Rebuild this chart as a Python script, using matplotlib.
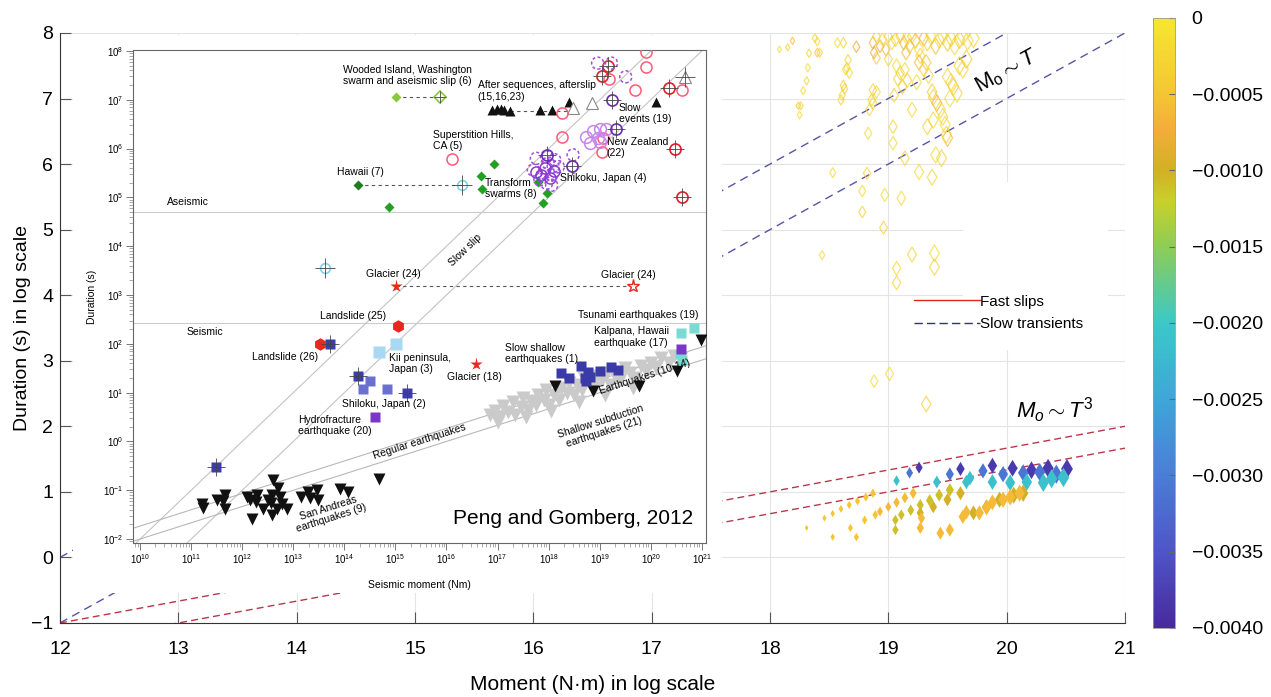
import numpy as np
import matplotlib
matplotlib.use('Agg')
import matplotlib.pyplot as plt
from matplotlib.colors import LinearSegmentedColormap, Normalize
from matplotlib.cm import ScalarMappable
from matplotlib.patches import Rectangle
from matplotlib.lines import Line2D
from matplotlib.ticker import LogLocator, NullFormatter, FixedFormatter

plt.rcParams['font.family'] = ['Liberation Sans', 'DejaVu Sans']
plt.rcParams['mathtext.fontset'] = 'custom'
plt.rcParams['mathtext.rm'] = 'Liberation Sans'
plt.rcParams['mathtext.it'] = 'Liberation Sans:italic'

# ---------------- main panel data (log10 moment, log10 duration, colour value)
slow_moment = [18.08, 18.15, 18.19, 18.38, 18.40, 18.33, 18.40, 18.42, 18.32, 18.31, 18.28, 18.24, 18.26, 18.25,
               18.57, 18.62, 18.73, 18.66, 18.65, 18.67, 18.64, 18.62, 18.63, 18.61, 18.60,
               18.87, 18.90, 18.93, 18.95, 18.98, 19.00, 19.03, 19.06, 19.10, 19.13, 19.16, 19.18, 19.20, 19.23,
               19.26, 19.30, 19.33, 19.36, 19.40, 19.43, 19.46, 19.50, 19.53, 19.56, 19.60, 19.63, 19.67, 19.72,
               18.88, 18.90, 19.15, 19.00, 19.27, 19.32,
               19.10, 19.14, 19.12, 19.16, 19.24, 19.26, 19.30, 19.34, 19.37, 19.38, 19.41, 19.44, 19.38, 19.33,
               19.50, 19.53, 19.55, 19.58, 19.52, 19.60, 19.63, 19.66, 19.46, 19.48, 19.50, 19.49, 19.40, 19.45,
               19.26, 19.37, 19.05, 19.08, 19.07,
               18.87, 18.90, 18.86, 18.84, 18.87, 18.83, 19.04, 19.04, 19.14, 19.20, 18.53, 18.82, 18.78, 18.78,
               18.97, 19.11, 18.96, 18.44, 19.20, 19.39, 19.39, 19.07, 19.07, 18.88, 19.01, 19.32]
slow_duration = [7.75, 7.78, 7.88, 7.92, 7.87, 7.69, 7.70, 7.70, 7.47, 7.27, 7.12, 6.89, 6.89, 6.75,
                 7.85, 7.85, 7.79, 7.59, 7.47, 7.39, 7.44, 7.20, 7.15, 7.05, 6.98,
                 7.85, 7.95, 7.80, 7.90, 7.75, 7.95, 7.85, 7.90, 7.95, 7.85, 7.92, 7.80, 7.95, 7.88,
                 7.75, 7.92, 7.85, 7.95, 7.80, 7.90, 7.95, 7.85, 7.92, 7.80, 7.90, 7.95, 7.88, 7.92,
                 7.70, 7.62, 7.70, 7.60, 7.65, 7.55,
                 7.39, 7.44, 7.18, 7.28, 7.25, 7.55, 7.45, 7.35, 7.10, 7.02, 6.93, 6.83, 6.67, 6.57,
                 7.33, 7.25, 7.18, 7.08, 7.00, 7.50, 7.45, 7.60, 6.72, 6.60, 6.40, 6.45, 6.14, 6.09,
                 5.88, 5.80, 7.05, 7.30, 7.50,
                 7.13, 7.10, 6.98, 6.83, 6.93, 6.47, 6.57, 6.32, 6.09, 6.83, 5.87, 5.86, 5.59, 5.27,
                 5.53, 5.48, 5.03, 4.61, 4.62, 4.64, 4.43, 4.41, 4.19, 2.69, 2.80, 2.34]
slow_value = [-0.0002, -0.0004, -0.0006, -0.0003, -0.0002, -0.0003, -0.0005, -0.0003, -0.0002, -0.0003, -0.0002,
              -0.0004, -0.0003, -0.0002,
              -0.0002, -0.0003, -0.0008, -0.0003, -0.0002, -0.0003, -0.0002, -0.0004, -0.0003, -0.0002, -0.0003,
              -0.0007, -0.0003, -0.0008, -0.0002, -0.0006, -0.0003, -0.0002, -0.0004, -0.0003, -0.0007, -0.0002,
              -0.0005, -0.0003, -0.0006, -0.0002, -0.0007, -0.0003, -0.0002, -0.0006, -0.0003, -0.0002, -0.0004,
              -0.0003, -0.0002, -0.0005, -0.0003, -0.0002, -0.0003,
              -0.0008, -0.0004, -0.0006, -0.0003, -0.0002, -0.0005,
              -0.0003, -0.0002, -0.0004, -0.0003, -0.0002, -0.0006, -0.0003, -0.0002, -0.0004, -0.0003, -0.0007,
              -0.0003, -0.0002, -0.0003,
              -0.0003, -0.0002, -0.0004, -0.0003, -0.0002, -0.0003, -0.0002, -0.0004, -0.0003, -0.0002, -0.0006,
              -0.0003, -0.0002, -0.0003,
              -0.0002, -0.0003, -0.0004, -0.0003, -0.0002,
              -0.0003, -0.0002, -0.0003, -0.0002, -0.0003, -0.0002, -0.0003, -0.0002, -0.0003, -0.0002, -0.0002,
              -0.0003, -0.0002, -0.0003, -0.0002, -0.0002, -0.0003, -0.0002, -0.0003, -0.0002, -0.0003, -0.0002,
              -0.0003, -0.0002, -0.0002, -0.0003]

fast_moment = [19.26, 19.61, 19.88, 20.05, 20.21, 20.35, 20.51,
               19.18, 19.52, 19.80, 19.97, 20.14, 20.28, 20.42,
               19.07, 19.41, 19.66, 19.69, 19.88, 20.03, 20.17, 20.31, 20.48, 20.38,
               18.31, 18.46, 18.53, 18.60, 18.67, 18.74, 18.81, 18.87, 18.53, 18.73, 18.68, 18.80, 18.89,
               18.93, 19.00, 19.07, 19.14, 19.21,
               19.11, 19.19, 19.27, 19.35, 19.43, 19.52, 19.06, 19.06,
               19.27, 19.38, 19.50, 19.61, 19.72, 19.83, 19.94, 20.06, 20.14,
               19.27, 19.44, 19.52, 19.63, 19.66, 19.77, 19.83, 19.88, 19.97, 20.03, 20.11, 19.28]
fast_duration = [1.37, 1.35, 1.40, 1.36, 1.33, 1.36, 1.35,
                 1.29, 1.27, 1.32, 1.27, 1.29, 1.30, 1.27,
                 1.17, 1.15, 1.15, 1.21, 1.15, 1.14, 1.15, 1.14, 1.22, 1.20,
                 0.45, 0.60, 0.67, 0.74, 0.80, 0.86, 0.92, 0.98, 0.31, 0.31, 0.45, 0.57, 0.65,
                 0.70, 0.77, 0.84, 0.91, 0.98,
                 0.65, 0.72, 0.80, 0.87, 0.95, 1.03, 0.57, 0.42,
                 0.68, 0.77, 0.88, 0.98, 0.68, 0.77, 0.88, 0.95, 0.98,
                 0.45, 0.37, 0.42, 0.62, 0.69, 0.68, 0.76, 0.84, 0.88, 0.92, 0.98, 0.60]
fast_value = [-0.0038] * 7 + [-0.0031] * 7 + [-0.0021] * 10 + \
             [-0.0005] * 13 + [-0.0006] * 5 + [-0.0011] * 8 + [-0.0010] * 9 + [-0.0006] * 12

cbar_ticks = [0, -0.0005, -0.0010, -0.0015, -0.0020, -0.0025, -0.0030, -0.0035, -0.0040]
cbar_labels = ['0', '\u22120.0005', '\u22120.0010', '\u22120.0015', '\u22120.0020',
               '\u22120.0025', '\u22120.0030', '\u22120.0035', '\u22120.0040']

# ---------------- inset data (log10 seismic moment, log10 duration)
sanandreas_m = [11.21, 11.23, 11.50, 11.66, 11.63, 11.66, 12.20, 12.09, 12.15, 12.28, 12.27, 12.41, 12.58, 12.56,
                12.58, 12.51, 12.68, 12.71, 12.74, 12.77, 12.87, 12.60, 13.16, 13.29, 13.33, 13.46, 13.49,
                13.91, 14.08, 14.68]
sanandreas_d = [-1.28, -1.36, -1.20, -1.10, -1.22, -1.39, -1.58, -1.13, -1.20, -1.10, -1.24, -1.39, -1.10, -1.26,
                -1.51, -1.20, -1.39, -0.96, -1.13, -1.28, -1.39, -0.79, -1.13, -1.03, -1.15, -1.00, -1.20,
                -0.98, -1.04, -0.76]
bigquake_m = [18.12, 18.87, 19.77, 20.51, 20.98]
bigquake_d = [1.14, 1.04, 1.14, 1.45, 2.08]
regular_m = [16.85, 16.95, 17.05, 17.10, 17.20, 17.30, 17.35, 17.45, 17.50, 17.60, 17.65, 17.75, 17.80, 17.90,
             17.95, 18.00, 18.10, 18.20, 18.25, 18.35, 18.40, 18.50, 18.55, 18.65, 18.70, 18.80, 18.90, 18.95,
             19.05, 19.15, 19.20, 19.30, 19.40, 19.50, 19.60, 19.70, 19.80, 19.90, 20.00, 20.10, 20.20, 20.35,
             20.45, 20.60, 17.00, 17.55, 18.05, 18.60, 19.10, 19.65]
regular_d = [0.55, 0.62, 0.50, 0.72, 0.60, 0.80, 0.55, 0.70, 0.90, 0.65, 0.82, 0.75, 0.95, 0.85,
             1.05, 0.75, 0.95, 0.85, 1.10, 1.00, 1.20, 0.95, 1.15, 1.05, 1.30, 1.20, 1.10, 1.35,
             1.25, 1.40, 1.15, 1.35, 1.25, 1.50, 1.40, 1.30, 1.55, 1.45, 1.60, 1.50, 1.70, 1.60,
             1.75, 1.70, 0.40, 0.50, 0.62, 0.80, 0.95, 1.10]
slowshallow_m = [18.24, 18.40, 18.64, 18.71, 18.77, 18.81, 19.00, 19.23, 19.36, 18.74]
slowshallow_d = [1.40, 1.29, 1.55, 1.29, 1.43, 1.31, 1.44, 1.52, 1.46, 1.24]
tsunami_m = [20.60, 20.85, 20.62, 20.58]
tsunami_d = [2.23, 2.32, 1.67, 1.80]
purple_sq_m = [14.60, 20.60]
purple_sq_d = [0.51, 1.89]
darkblue_m = [13.72, 14.27, 15.22, 11.49]
darkblue_d = [1.99, 1.35, 1.00, -0.53]
shikoku2_m = [14.51, 14.37, 14.83]
shikoku2_d = [1.24, 1.07, 1.07]
kii_m = [15.02, 14.68]
kii_d = [1.99, 1.84]
landslide_m = [13.52, 15.05]
landslide_d = [1.99, 2.37]
glacier_m = [15.01, 16.58]
glacier_d = [3.18, 1.58]
glacier_open_m = [19.65]
glacier_open_d = [3.18]
transform_m = [16.93, 16.67, 16.69, 17.96, 17.89, 17.79, 14.87]
transform_d = [5.68, 5.44, 5.17, 5.10, 4.89, 5.32, 4.81]
hawaii_m = [14.26]
hawaii_d = [5.25]
wooded_m = [15.01]
wooded_d = [7.06]
wooded_open_m = [15.88]
wooded_open_d = [7.06]
cyan_ring_m = [16.30, 13.63]
cyan_ring_d = [5.25, 3.56]
afterslip_m = [16.90, 16.98, 17.06, 17.13, 17.25, 17.83, 18.07, 18.40, 20.10]
afterslip_d = [6.80, 6.82, 6.82, 6.80, 6.78, 6.80, 6.79, 6.96, 6.96]
afterslip_open_m = [18.48, 18.84, 20.67]
afterslip_open_d = [6.83, 6.94, 7.47]
pink_m = [19.90, 19.90, 19.18, 19.69, 20.62, 18.26, 18.26, 16.10, 19.04, 19.07]
pink_d = [7.97, 7.68, 7.42, 7.20, 7.20, 6.72, 6.24, 5.79, 5.94, 6.21]
red_ring_m = [19.16, 19.05, 20.36, 20.47, 20.62]
red_ring_d = [7.69, 7.49, 7.24, 6.00, 5.01]
nz_m = [18.74, 18.87, 19.00, 19.13, 18.81, 18.97, 19.00]
nz_d = [6.24, 6.37, 6.40, 6.40, 6.11, 6.21, 6.14]
purple_dash_m = [18.96, 19.23, 19.51, 17.76, 17.96, 18.12, 18.48, 17.70, 17.89, 18.06, 18.09, 17.96, 18.06,
                 17.83, 18.19, 17.99]
purple_dash_d = [7.75, 7.75, 7.47, 5.80, 5.83, 5.77, 5.87, 5.56, 5.49, 5.46, 5.63, 5.29, 5.25, 5.36, 5.63, 5.70]
purple_solid_m = [17.75, 17.92, 18.02, 17.85, 18.10]
purple_solid_d = [5.52, 5.60, 5.40, 5.45, 5.55]
purple_ring_m = [19.24, 19.31, 17.96, 18.46]
purple_ring_d = [7.00, 6.40, 5.87, 5.64]
aseismic_level = 4.71
seismic_level = 2.42

# ---------------------------------------------------------------- figure
fig = plt.figure(figsize=(12.71, 6.97), dpi=100)
ax = fig.add_axes([0.0472, 0.1062, 0.8379, 0.8465])

colors = ['#472a9e', '#4f55c8', '#4a7ed6', '#3ea6da', '#3cc8c8', '#8ccd55',
          '#c8d02c', '#d2b025', '#f5ac3c', '#f5c435', '#f6e630']
stops = [0, 0.125, 0.25, 0.375, 0.5, 0.625, 0.7, 0.75, 0.82, 0.875, 1.0]
cmap = LinearSegmentedColormap.from_list('strain', list(zip(stops, colors)))
norm = Normalize(vmin=-0.004, vmax=0)

ax.set_xlim(12, 21)
ax.set_ylim(-1, 8)
ax.set_xticks(range(12, 22))
ax.set_yticks(range(-1, 9))
ax.grid(True, color='#e4e4e4', lw=0.8)
ax.set_axisbelow(True)
for s in ['top', 'right']:
    ax.spines[s].set_visible(False)
for s in ['left', 'bottom']:
    ax.spines[s].set_color('#333333')
ax.tick_params(direction='in', length=8, color='#555555', labelsize=14)
ax.tick_params(axis='x', pad=13)
ax.tick_params(axis='y', pad=5)
ax.set_xlabel('Moment (N\u00b7m) in log scale', fontsize=15, labelpad=12)
ax.set_ylabel('Duration (s) in log scale', fontsize=14, labelpad=0)

# scaling lines
xx = np.array([12.0, 21.0])
ax.plot(xx, xx - 12, ls=(0, (6, 4)), color='#5555a5', lw=1)
ax.plot(xx, xx - 13, ls=(0, (6, 4)), color='#5555a5', lw=1)
ax.plot(xx, (xx - 15) / 3, ls=(0, (5, 3)), color='#b8384a', lw=1)
ax.plot(xx, (xx - 16) / 3, ls=(0, (5, 3)), color='#b8384a', lw=1)

sm = np.array(slow_moment)
ax.scatter(sm, slow_duration, s=(3 + 3.8 * (sm - 18)) ** 2, marker='d', facecolors='none',
           edgecolors=cmap(norm(np.array(slow_value))), linewidths=0.9, alpha=0.7, zorder=3)
fm = np.array(fast_moment)
ax.scatter(fm, fast_duration, s=(3 + 3.2 * (fm - 18.3)) ** 2, marker='d', c=fast_value, cmap=cmap,
           norm=norm, edgecolors='none', zorder=3)

ax.add_patch(Rectangle((0.848, 0.463), 0.136, 0.284, transform=ax.transAxes, facecolor='white',
                       edgecolor='none', zorder=1))
handles = [Line2D([], [], color='#e0261b', lw=1),
           Line2D([], [], color='#2f2f8f', lw=1, ls=(0, (6, 3)))]
ax.legend(handles, ['Fast slips', 'Slow transients'], loc='upper left', bbox_to_anchor=(0.789, 0.58),
          frameon=False, fontsize=11, handlelength=4.3, handletextpad=0.02, labelspacing=0.55)
ax.text(20.0, 7.42, r'$\mathrm{M_o}\sim T$', fontsize=16, rotation=29, ha='center', va='center')
ax.text(20.41, 2.25, r'$M_o\sim T^3$', fontsize=16, ha='center', va='center')

# colour bar
cax = fig.add_axes([0.9072, 0.099, 0.0173, 0.8752])
cb = fig.colorbar(ScalarMappable(norm=norm, cmap=cmap), cax=cax)
cb.set_ticks(cbar_ticks)
cb.ax.yaxis.set_major_formatter(FixedFormatter(cbar_labels))
cb.ax.tick_params(direction='in', length=4, color='#666666', labelsize=14, pad=12)
cb.outline.set_edgecolor('#999999')
cb.outline.set_linewidth(0.6)

# white backdrop of the embedded figure
fig.patches.append(Rectangle((0.0574, 0.1492), 0.5106, 0.8006, transform=fig.transFigure,
                             facecolor='white', edgecolor='none', zorder=1))

# ---------------------------------------------------------------- inset
ins = fig.add_axes([0.1046, 0.221, 0.4508, 0.7073], zorder=3)
ins.set_xscale('log')
ins.set_yscale('log')
ins.set_xlim(10 ** 9.86, 10 ** 21.08)
ins.set_ylim(10 ** -2.08, 10 ** 8.02)
ins.set_xticks([10.0 ** k for k in range(10, 22)])
ins.set_yticks([10.0 ** k for k in range(-2, 9)])
ins.xaxis.set_minor_locator(LogLocator(base=10, subs=range(2, 10), numticks=100))
ins.yaxis.set_minor_locator(LogLocator(base=10, subs=range(2, 10), numticks=100))
ins.xaxis.set_minor_formatter(NullFormatter())
ins.yaxis.set_minor_formatter(NullFormatter())
ins.tick_params(which='major', direction='out', length=5, width=0.7, color='#777777', labelsize=7, pad=2)
ins.tick_params(which='minor', direction='out', length=3, width=0.5, color='#888888')
for s in ins.spines.values():
    s.set_color('#666666')
    s.set_linewidth(0.8)
ins.set_xlabel('Seismic moment (Nm)', fontsize=7.5, labelpad=10)
ins.set_ylabel('Duration (s)', fontsize=7.5, labelpad=4)


def P(m, d, **kw):
    ins.plot(10.0 ** np.array(m), 10.0 ** np.array(d), ls='none', **kw)


def cross(m, d, ms=13):
    P(m, d, marker='+', ms=ms, mew=0.6, color='#444444', zorder=6)


lm = np.array([9.5, 21.5])
for off in [12, 13]:
    ins.plot(10 ** lm, 10 ** (lm - off), color='#c4c4c4', lw=0.8)
for off in [15.2, 16]:
    ins.plot(10 ** lm, 10 ** ((lm - off) / 3), color='#b8b8b8', lw=0.8)
ins.axhline(10 ** aseismic_level, color='#cccccc', lw=0.8)
ins.axhline(10 ** seismic_level, color='#cccccc', lw=0.8)

dash = dict(color='#555555', lw=0.8, ls=(0, (3, 3)))
ins.plot(10 ** np.array([wooded_m[0], wooded_open_m[0]]), 10 ** np.array([wooded_d[0]] * 2), **dash)
ins.plot(10 ** np.array([hawaii_m[0], cyan_ring_m[0]]), 10 ** np.array([hawaii_d[0]] * 2), **dash)
ins.plot(10 ** np.array([glacier_m[0], glacier_open_m[0]]), 10 ** np.array([glacier_d[0]] * 2), **dash)
ins.plot(10 ** np.array([afterslip_m[4], afterslip_open_m[0]]), 10 ** np.array([6.77, 6.77]), **dash)

P(regular_m, regular_d, marker='v', ms=9.5, color='#cacaca', mec='none', zorder=3)
P(sanandreas_m, sanandreas_d, marker='v', ms=8, color='#111111', mec='none', zorder=4)
P(bigquake_m, bigquake_d, marker='v', ms=8, color='#111111', mec='none', zorder=4)
P(slowshallow_m, slowshallow_d, marker='s', ms=7.5, color='#3b3ba8', mec='none', zorder=4)
P(tsunami_m, tsunami_d, marker='s', ms=7.5, color='#7adbd3', mec='none', zorder=4)
P(purple_sq_m, purple_sq_d, marker='s', ms=7, color='#7a36c4', mec='none', zorder=5)
P(darkblue_m, darkblue_d, marker='s', ms=7.5, color='#3c3cae', mec='none', zorder=4)
cross(darkblue_m, darkblue_d)
P(shikoku2_m, shikoku2_d, marker='s', ms=7.5, color='#6a70d0', mec='none', zorder=4)
P(kii_m, kii_d, marker='s', ms=8, color='#a8d8f2', mec='none', zorder=4)
P(landslide_m, landslide_d, marker='h', ms=9, color='#e8281e', mec='none', zorder=4)
P(glacier_m, glacier_d, marker='*', ms=9.5, color='#e8281e', mec='none', zorder=4)
P(glacier_open_m, glacier_open_d, marker='*', ms=9.5, mfc='white', mec='#e8281e', mew=1, zorder=4)
P(transform_m, transform_d, marker='D', ms=5.5, color='#22a022', mec='none', zorder=4)
P(hawaii_m, hawaii_d, marker='D', ms=5.5, color='#1e7d1e', mec='none', zorder=4)
P(wooded_m, wooded_d, marker='D', ms=5.5, color='#86c93a', mec='none', zorder=4)
P(wooded_open_m, wooded_open_d, marker='D', ms=6, mfc='white', mec='#86c93a', mew=1.2, zorder=4)
cross(wooded_open_m, wooded_open_d, ms=8)
P(cyan_ring_m, cyan_ring_d, marker='o', ms=7, mfc='none', mec='#7fd3ea', mew=1.2, zorder=4)
cross(cyan_ring_m, cyan_ring_d, ms=14)
P(afterslip_m, afterslip_d, marker='^', ms=7.5, color='#111111', mec='none', zorder=4)
P(afterslip_open_m, afterslip_open_d, marker='^', ms=8, mfc='white', mec='#888888', mew=0.8, zorder=4)
cross(afterslip_open_m[2:], afterslip_open_d[2:], ms=14)
P(pink_m, pink_d, marker='o', ms=8, mfc='none', mec='#ff5a78', mew=1.1, zorder=4)
P(red_ring_m, red_ring_d, marker='o', ms=8, mfc='none', mec='#e01f26', mew=1.2, zorder=4)
cross(red_ring_m, red_ring_d)
P(nz_m, nz_d, marker='o', ms=8.5, mfc='none', mec='#c685ea', mew=1.1, zorder=4)
ins.scatter(10.0 ** np.array(purple_dash_m), 10.0 ** np.array(purple_dash_d), s=75, facecolors='none',
            edgecolors='#a24fdc', linewidths=1.1, linestyles=(0, (2, 1.5)), zorder=4)
P(purple_solid_m, purple_solid_d, marker='o', ms=8, mfc='none', mec='#8a3ccf', mew=1.1, zorder=4)
P(purple_ring_m, purple_ring_d, marker='o', ms=8, mfc='none', mec='#6a2cb0', mew=1.2, zorder=4)
cross(purple_ring_m, purple_ring_d)


def T(m, d, s, **kw):
    kw.setdefault('fontsize', 7.5)
    kw.setdefault('va', 'center')
    kw.setdefault('ha', 'left')
    ins.text(10.0 ** m, 10.0 ** d, s, zorder=7, linespacing=1.15, **kw)


T(13.97, 7.49, 'Wooded Island, Washington\nswarm and aseismic slip (6)')
T(16.61, 7.18, 'After sequences, afterslip\n(15,16,23)')
T(15.73, 6.16, 'Superstition Hills,\nCA (5)')
T(19.37, 6.72, 'Slow\nevents (19)')
T(19.14, 6.02, 'New Zealand\n(22)')
T(13.85, 5.53, 'Hawaii (7)')
T(16.75, 5.19, 'Transform\nswarms (8)')
T(18.22, 5.40, 'Shikoku, Japan (4)')
T(10.53, 4.91, 'Aseismic')
T(14.42, 3.44, 'Glacier (24)')
T(19.02, 3.42, 'Glacier (24)')
T(13.52, 2.57, 'Landslide (25)')
T(10.92, 2.24, 'Seismic')
T(12.19, 1.72, 'Landslide (26)')
T(14.88, 1.59, 'Kii peninsula,\nJapan (3)')
T(13.95, 0.76, 'Shiloku, Japan (2)')
T(13.10, 0.32, 'Hydrofracture\nearthquake (20)')
T(16.01, 1.33, 'Glacier (18)')
T(17.14, 1.80, 'Slow shallow\nearthquakes (1)')
T(18.57, 2.60, 'Tsunami earthquakes (19)')
T(18.89, 2.14, 'Kalpana, Hawaii\nearthquake (17)')
T(16.36, 3.92, 'Slow slip', ha='center', rotation=44)
T(15.48, 0.0, 'Regular earthquakes', ha='center', rotation=17.7)
T(13.72, -1.47, 'San Andreas\nearthquakes (9)', ha='center', rotation=17.7)
T(19.88, 1.32, 'Earthquakes (10-14)', ha='center', rotation=17.7)
T(19.06, 0.30, 'Shallow subduction\nearthquakes (21)', ha='center', rotation=17.7)
ins.text(0.977, 0.049, 'Peng and Gomberg, 2012', transform=ins.transAxes, fontsize=15,
         ha='right', va='center', zorder=7)

fig.savefig('out.png', dpi=100)
